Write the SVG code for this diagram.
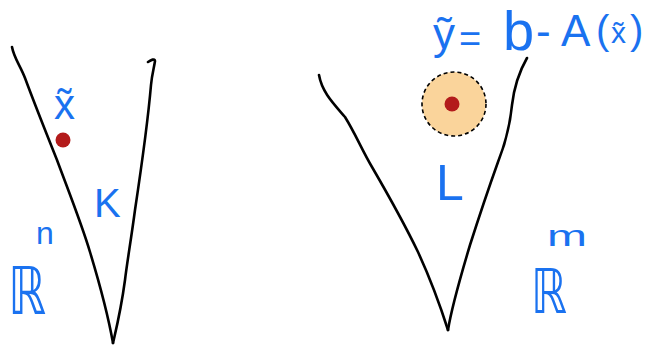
<svg xmlns="http://www.w3.org/2000/svg" width="647" height="347" viewBox="0 0 647 347">
<style>
.cone{fill:none;stroke:#000;stroke-width:2.6;stroke-linecap:round;stroke-linejoin:round}
.lbl{fill:#1a72f0;font-family:"Liberation Sans","DejaVu Sans",sans-serif}
.bb{fill:#1a72f0;font-family:"DejaVu Sans","Liberation Sans",sans-serif}
.pt{fill:#b31b1b}
</style>
<rect width="647" height="347" fill="#fff"/>
<g id="cone-K">
<path class="cone" d="M12,47 C14,58 20,65 25,78 C35,105 45,130 57,160 C70,195 82,225 90,252 C100,285 108,315 113,343"/>
<path class="cone" d="M148,62 C151,60 155,58 155,61 C154,68 152,74 151,85 C148,120 141,170 135,210 C131,240 127,263 125,280 C121,310 116,330 113,343"/>
</g>
<g id="point-x">
<circle class="pt" cx="63" cy="140" r="7.5"/>
<text class="lbl" x="54" y="119" font-size="42">x̃</text>
</g>
<g id="label-K"><text class="lbl" x="94" y="217" font-size="40">K</text></g>
<g id="label-Rn">
<text class="bb" x="8" y="314" font-size="66" textLength="38" lengthAdjust="spacingAndGlyphs">ℝ</text>
<text class="lbl" x="36" y="244" font-size="32">n</text>
</g>
<g id="cone-L">
<path class="cone" d="M319,75 C322,92 333,103 345,117 C355,133 362,150 372,167 C390,198 405,225 418,252 C430,278 440,305 448,330"/>
<path class="cone" d="M527,58 C519,72 514,88 512,105 C510,125 506,142 498,162 C488,190 478,220 470,245 C461,275 452,305 448,330"/>
</g>
<g id="ball-y">
<circle cx="454" cy="104" r="32" fill="#fad49b" stroke="#000" stroke-width="1.6" stroke-dasharray="4 3"/>
<circle class="pt" cx="452" cy="104" r="7.5"/>
</g>
<g id="label-L"><text class="lbl" x="436" y="200" font-size="50">L</text></g>
<g id="equation">
<text class="lbl" font-size="44"><tspan x="433" y="49">ỹ</tspan><tspan x="459" y="52" font-size="38">=</tspan><tspan x="503" y="50" font-size="56">b</tspan><tspan x="536" y="46">-</tspan><tspan x="561" y="46">A</tspan><tspan x="596" y="44" font-size="40">(</tspan><tspan x="611" y="43" font-size="30">x̃</tspan><tspan x="630" y="44" font-size="40">)</tspan></text>
</g>
<g id="label-Rm">
<text class="bb" x="531" y="313" font-size="62" textLength="36" lengthAdjust="spacingAndGlyphs">ℝ</text>
<text class="lbl" x="547" y="246" font-size="30" textLength="40" lengthAdjust="spacingAndGlyphs">m</text>
</g>
</svg>
